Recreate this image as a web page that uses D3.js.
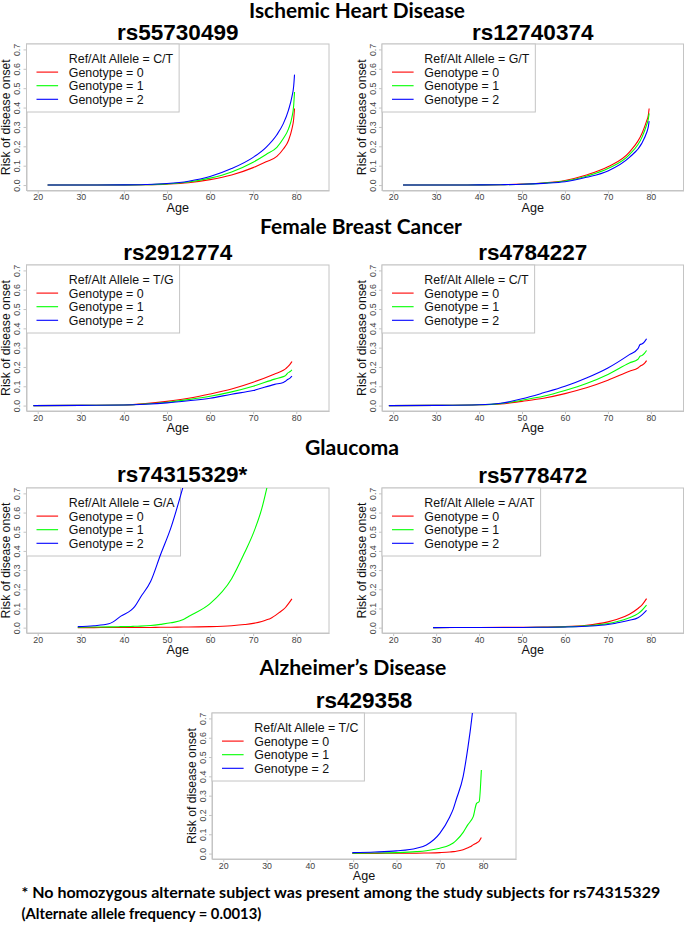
<!DOCTYPE html>
<html><head><meta charset="utf-8">
<script src="https://cdn.jsdelivr.net/npm/d3@7"></script>
<style>body{margin:0;background:#fff}</style>
</head><body>
<svg id="c" width="685" height="925" xmlns="http://www.w3.org/2000/svg"></svg>
<script>
// ---------- DATA ----------
const tickAges = [20, 30, 40, 50, 60, 70, 80];
const tickRisk = [0, 0.1, 0.2, 0.3, 0.4, 0.5, 0.6, 0.7];
const genotypeLabels = ["Genotype = 0", "Genotype = 1", "Genotype = 2"];
const diseaseTitles = ["Ischemic Heart Disease", "Female Breast Cancer", "Glaucoma", "Alzheimer\u2019s Disease"];
const snpNames = ["rs55730499", "rs12740374", "rs2912774", "rs4784227", "rs74315329", "rs5778472", "rs429358"];
const alleles = ["C/T", "G/T", "T/G", "C/T", "G/A", "A/AT", "T/C"];
const footnoteLines = [
  "* No homozygous alternate subject was present among the study subjects for rs74315329",
  "(Alternate allele frequency = 0.0013)"
];

// rs55730499
const p1Age = [22.3, 30, 40, 45, 50, 55, 60, 65, 70, 73, 75.5, 77, 78.2, 79, 79.4, 79.6];
const p1G0  = [0, 0, 0.001, 0.002, 0.005, 0.012, 0.028, 0.052, 0.09, 0.12, 0.148, 0.186, 0.23, 0.29, 0.34, 0.395];
const p1G1  = [0, 0, 0.001, 0.002, 0.006, 0.016, 0.036, 0.068, 0.118, 0.158, 0.195, 0.24, 0.29, 0.35, 0.41, 0.48];
const p1G2  = [0, 0, 0.001, 0.003, 0.008, 0.02, 0.044, 0.085, 0.143, 0.195, 0.26, 0.317, 0.387, 0.456, 0.51, 0.57];
// rs12740374
const p2Age = [22.3, 30, 40, 45, 50, 55, 60, 65, 70, 75, 78, 79, 79.4, 79.6];
const p2G0  = [0, 0, 0.001, 0.002, 0.005, 0.011, 0.024, 0.052, 0.094, 0.17, 0.27, 0.33, 0.36, 0.395];
const p2G1  = [0, 0, 0.001, 0.002, 0.004, 0.01, 0.021, 0.046, 0.085, 0.157, 0.25, 0.31, 0.34, 0.37];
const p2G2  = [0, 0, 0.001, 0.002, 0.004, 0.009, 0.017, 0.04, 0.073, 0.143, 0.22, 0.27, 0.3, 0.33];
// rs2912774
const p3Age = [19, 30, 40, 45, 50, 55, 60, 65, 70, 75, 77, 77.5, 78, 78.5, 79];
const p3G0  = [0, 0.001, 0.003, 0.01, 0.022, 0.038, 0.06, 0.086, 0.121, 0.164, 0.183, 0.19, 0.2, 0.212, 0.228];
const p3G1  = [0, 0.001, 0.003, 0.008, 0.017, 0.031, 0.048, 0.071, 0.1, 0.137, 0.15, 0.155, 0.168, 0.175, 0.185];
const p3G2  = [0, 0.001, 0.003, 0.007, 0.014, 0.025, 0.038, 0.059, 0.078, 0.11, 0.12, 0.126, 0.135, 0.141, 0.152];
// rs4784227
const p4Age = [19, 30, 40, 45, 50, 55, 60, 65, 70, 75, 77, 77.5, 78, 78.5, 79];
const p4G0  = [0, 0.001, 0.004, 0.008, 0.022, 0.038, 0.062, 0.092, 0.131, 0.178, 0.195, 0.204, 0.21, 0.218, 0.233];
const p4G1  = [0, 0.001, 0.004, 0.01, 0.028, 0.048, 0.078, 0.114, 0.161, 0.221, 0.24, 0.256, 0.26, 0.27, 0.285];
const p4G2  = [0, 0.001, 0.004, 0.012, 0.035, 0.066, 0.1, 0.143, 0.195, 0.264, 0.295, 0.316, 0.32, 0.33, 0.346];
// rs74315329*
const p5Age = [29.3, 33, 36.5, 37.5, 39.3, 41.6, 42.5, 43.9, 46.2, 48.5, 50.9, 53.8, 55, 60, 65, 68, 70, 72, 73.3, 74, 76, 77.5, 78.2, 79];
const p5G0  = [0, 0, 0.001, 0.001, 0.001, 0.001, 0.001, 0.001, 0.001, 0.002, 0.002, 0.003, 0.003, 0.005, 0.01, 0.016, 0.022, 0.032, 0.042, 0.048, 0.078, 0.105, 0.125, 0.15];
const p5G1  = [0.002, 0.003, 0.004, 0.004, 0.005, 0.006, 0.007, 0.008, 0.011, 0.017, 0.025, 0.042, 0.058, 0.125, 0.255, 0.39, 0.49, 0.62, 0.74, null, null, null, null, null];
const p5G2  = [0.005, 0.01, 0.02, 0.03, 0.06, 0.09, 0.11, 0.16, 0.24, 0.38, 0.52, 0.74, null, null, null, null, null, null, null, null, null, null, null, null];
// rs5778472
const p6Age = [29.3, 40, 50, 55, 60, 65, 70, 72, 75, 77, 78, 79];
const p6G0  = [0, 0.001, 0.002, 0.003, 0.005, 0.012, 0.03, 0.042, 0.07, 0.1, 0.12, 0.151];
const p6G1  = [0, 0.001, 0.001, 0.002, 0.004, 0.009, 0.021, 0.031, 0.052, 0.073, 0.092, 0.117];
const p6G2  = [0, 0.001, 0.001, 0.002, 0.003, 0.007, 0.016, 0.024, 0.038, 0.052, 0.068, 0.09];
// rs429358
const p7Age = [49.8, 55, 60, 64.6, 66.9, 70, 72.3, 73.1, 73.8, 75.4, 76.5, 77, 77.7, 78.5, 79.1, 79.6];
const p7G0  = [0.001, 0.001, 0.002, 0.002, 0.003, 0.005, 0.008, 0.01, 0.012, 0.02, 0.03, 0.035, 0.045, 0.055, 0.065, 0.083];
const p7G1  = [0.002, 0.003, 0.005, 0.01, 0.015, 0.028, 0.045, 0.055, 0.068, 0.11, 0.15, 0.165, 0.19, 0.26, 0.27, 0.433];
const p7G2  = [0.005, 0.008, 0.014, 0.028, 0.045, 0.105, 0.19, 0.23, 0.28, 0.40, 0.55, 0.63, 0.76, null, null, null];

// ---------- LAYOUT ----------
const genotypeColors = ["#ff0000", "#00ff00", "#0000ff"];
const frameColor = "#c4c4c4";
const axFont = "'Liberation Sans', Arial, Helvetica, sans-serif";
const titleFont = "Lato, 'Open Sans', sans-serif";

const panels = [
  {snp: snpNames[0], allele: alleles[0], age: p1Age, g: [p1G0, p1G1, p1G2], box: [26.5, 44, 329, 190.5], ty: 40},
  {snp: snpNames[1], allele: alleles[1], age: p2Age, g: [p2G0, p2G1, p2G2], box: [382, 44, 683.5, 190.5], ty: 40},
  {snp: snpNames[2], allele: alleles[2], age: p3Age, g: [p3G0, p3G1, p3G2], box: [26.5, 265, 329, 411], ty: 260},
  {snp: snpNames[3], allele: alleles[3], age: p4Age, g: [p4G0, p4G1, p4G2], box: [382, 265, 683.5, 411], ty: 260},
  {snp: snpNames[4], star: true, allele: alleles[4], age: p5Age, g: [p5G0, p5G1, p5G2], box: [26.5, 488, 329, 633], ty: 481.5},
  {snp: snpNames[5], allele: alleles[5], age: p6Age, g: [p6G0, p6G1, p6G2], box: [382, 488, 683.5, 633], ty: 482.5},
  {snp: snpNames[6], allele: alleles[6], age: p7Age, g: [p7G0, p7G1, p7G2], box: [212, 713, 516, 859], ty: 708}
];
const diseaseLayout = [
  {cx: 357, y: 17.5, w: 216},
  {cx: 361, y: 233.5, w: 202},
  {cx: 352, y: 455, w: 94},
  {cx: 353, y: 675, w: 187}
];

const svg = d3.select("#c");
svg.append("rect").attr("width", 685).attr("height", 925).attr("fill", "#fff");

function fitText(sel, target, base) {
  sel.attr("font-size", base);
  const w = sel.node().getComputedTextLength();
  if (w > 0) sel.attr("font-size", base * target / w);
}

// Disease titles
diseaseTitles.forEach((t, i) => {
  const L = diseaseLayout[i];
  const tx = svg.append("text").attr("x", L.cx).attr("y", L.y)
    .attr("text-anchor", "middle").attr("font-family", titleFont)
    .attr("font-weight", "bold").attr("fill", "#000").text(t);
  fitText(tx, L.w, 20);
});

panels.forEach((p, pi) => {
  const [x0, y0, x1, y1] = p.box;
  const x = d3.scaleLinear().domain([17.4, 87.6]).range([x0, x1]);
  const y = d3.scaleLinear().domain([-0.028, 0.728]).range([y1, y0]);
  const g = svg.append("g");
  const cid = "clip" + pi;
  g.append("clipPath").attr("id", cid).append("rect")
    .attr("x", x0).attr("y", y0).attr("width", x1 - x0).attr("height", y1 - y0);

  // SNP title
  const cx = (x0 + x1) / 2;
  const st = g.append("text").attr("y", p.ty).attr("font-family", axFont)
    .attr("font-weight", "bold").attr("font-size", 22.5).attr("fill", "#000").text(p.snp);
  const sw = st.node().getComputedTextLength();
  st.attr("x", cx - sw / 2);
  if (p.star) st.append("tspan").text("*");

  // frame
  g.append("rect").attr("x", x0).attr("y", y0).attr("width", x1 - x0).attr("height", y1 - y0)
    .attr("fill", "none").attr("stroke", frameColor).attr("stroke-width", 1);

  // x axis
  const xa = g.append("g").attr("transform", `translate(0,${y1})`)
    .call(d3.axisBottom(x).tickValues(tickAges).tickSize(3).tickSizeOuter(0).tickFormat(d3.format("d")));
  xa.select(".domain").attr("stroke", frameColor);
  xa.selectAll(".tick line").attr("stroke", frameColor);
  xa.selectAll(".tick text").attr("y", 9.6).attr("dy", null)
    .attr("font-family", axFont).attr("font-size", 8.8).attr("fill", "#444");

  // y axis
  const ya = g.append("g").attr("transform", `translate(${x0},0)`)
    .call(d3.axisLeft(y).tickValues(tickRisk).tickSize(3).tickSizeOuter(0).tickFormat(d3.format(".1f")));
  ya.select(".domain").attr("stroke", frameColor);
  ya.selectAll(".tick line").attr("stroke", frameColor);
  ya.selectAll(".tick text").attr("x", null).attr("dy", null)
    .attr("transform", "translate(-6.5,0) rotate(-90)").attr("text-anchor", "middle")
    .attr("font-family", axFont).attr("font-size", 8.8).attr("fill", "#444");

  // axis titles
  g.append("text").attr("x", cx).attr("y", y1 + 21).attr("text-anchor", "middle")
    .attr("font-family", axFont).attr("font-size", 12.6).attr("fill", "#111").text("Age");
  g.append("text").attr("transform", `translate(${x0 - 16.5},${(y0 + y1) / 2}) rotate(-90)`)
    .attr("text-anchor", "middle").attr("font-family", axFont).attr("font-size", 12.2)
    .attr("fill", "#111").text("Risk of disease onset");

  // legend
  const lg = g.append("g");
  const lrect = lg.append("rect").attr("x", x0).attr("y", y0).attr("height", 68)
    .attr("fill", "#fff").attr("stroke", frameColor).attr("stroke-width", 1);
  const rows = ["Ref/Alt Allele = " + p.allele].concat(genotypeLabels);
  let maxW = 0;
  rows.forEach((r, i) => {
    const t = lg.append("text").attr("x", x0 + 42.3).attr("y", y0 + 14.5 + 13.6 * i + 4.4)
      .attr("font-family", axFont).attr("font-size", 12.4).attr("fill", "#111").text(r);
    maxW = Math.max(maxW, t.node().getComputedTextLength());
    if (i > 0) {
      lg.append("line").attr("x1", x0 + 10).attr("x2", x0 + 31.6)
        .attr("y1", y0 + 14.5 + 13.6 * i).attr("y2", y0 + 14.5 + 13.6 * i)
        .attr("stroke", genotypeColors[i - 1]).attr("stroke-width", 1.1);
    }
  });
  lrect.attr("width", 42.3 + maxW + 6);

  // curves
  const line = d3.line().defined(d => d[1] != null).curve(d3.curveMonotoneX)
    .x(d => x(d[0])).y(d => y(d[1]));
  const lines = g.append("g").attr("clip-path", `url(#${cid})`);
  p.g.forEach((vals, k) => {
    const pts = p.age.map((a, i) => [a, vals[i]]);
    lines.append("path").attr("d", line(pts)).attr("fill", "none")
      .attr("stroke", genotypeColors[k]).attr("stroke-width", 1.1);
  });
});

// footnote
const fnY = [898, 919];
const fnW = [639, 240];
footnoteLines.forEach((t, i) => {
  const tx = svg.append("text").attr("x", 21.5).attr("y", fnY[i]).attr("font-family", titleFont)
    .attr("font-weight", "bold").attr("fill", "#000").text(t);
  fitText(tx, fnW[i], 15);
});
</script>
</body></html>
